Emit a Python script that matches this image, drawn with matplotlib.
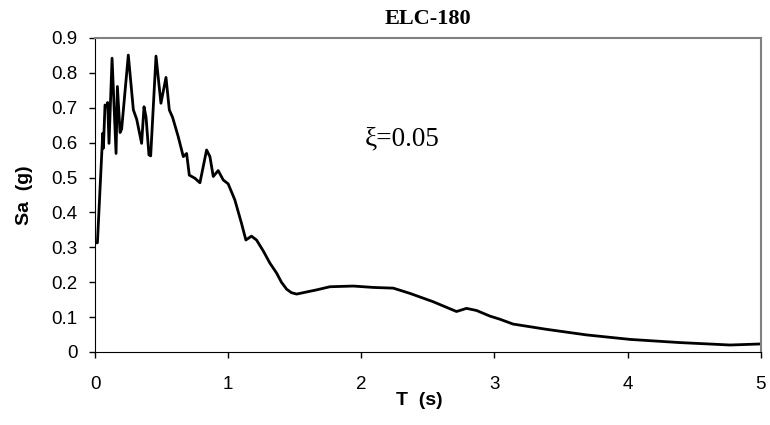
import matplotlib
matplotlib.use("Agg")
import matplotlib.pyplot as plt
from matplotlib.ticker import FuncFormatter

T = [0.0, 0.018, 0.058, 0.063, 0.075, 0.088, 0.095, 0.105, 0.128, 0.158, 0.168,
     0.188, 0.2, 0.25, 0.288, 0.313, 0.35, 0.368, 0.383, 0.405, 0.418, 0.458,
     0.495, 0.533, 0.558, 0.583, 0.625, 0.663, 0.688, 0.708, 0.75, 0.788, 0.838,
     0.863, 0.888, 0.925, 0.963, 1.0, 1.05, 1.1, 1.133, 1.175, 1.213, 1.263,
     1.313, 1.364, 1.40, 1.439, 1.475, 1.514, 1.664, 1.764, 1.94, 2.09, 2.24, 2.365, 2.54,
     2.715, 2.79, 2.865, 2.965, 3.04, 3.14, 3.39, 3.69, 4.02, 4.39, 4.77, 5.0]
Sa = [0.313, 0.313, 0.627, 0.584, 0.708, 0.703, 0.715, 0.598, 0.842, 0.569, 0.761,
      0.629, 0.639, 0.851, 0.694, 0.667, 0.598, 0.703, 0.674, 0.565, 0.562, 0.848,
      0.713, 0.787, 0.694, 0.672, 0.617, 0.560, 0.569, 0.507, 0.498, 0.485, 0.579,
      0.560, 0.503, 0.520, 0.493, 0.482, 0.436, 0.369, 0.321, 0.332, 0.321, 0.290,
      0.255, 0.226, 0.200, 0.180, 0.170, 0.166, 0.178, 0.187, 0.189, 0.185, 0.183, 0.168, 0.144,
      0.116, 0.125, 0.119, 0.103, 0.094, 0.080, 0.065, 0.049, 0.036, 0.027, 0.020, 0.023]

xticks = [0, 1, 2, 3, 4, 5]
yticks = [0, 0.1, 0.2, 0.3, 0.4, 0.5, 0.6, 0.7, 0.8, 0.9]

fig = plt.figure(figsize=(7.7, 4.25), dpi=100)
ax = fig.add_axes([0.1234, 0.1718, 0.8646, 0.7388])
ax.plot(T, Sa, color="black", lw=2.0, solid_joinstyle="round")
ax.set_xlim(0, 5)
ax.set_ylim(0, 0.9)
ax.set_xticks(xticks)
ax.set_yticks(yticks)
ax.yaxis.set_major_formatter(FuncFormatter(lambda v, p: "0" if v == 0 else f"{v:.1f}"))
ax.xaxis.set_major_formatter(FuncFormatter(lambda v, p: f"{v:.0f}"))
for lab in ax.get_xticklabels() + ax.get_yticklabels():
    lab.set_fontfamily("Liberation Sans")
    lab.set_fontsize(13.5)
ax.tick_params(direction="out", length=4.5, width=1, color="black")
ax.tick_params(axis="x", pad=13)
ax.tick_params(axis="y", pad=8)
ax.spines["top"].set_color("#808080")
ax.spines["right"].set_color("#808080")
ax.spines["top"].set_linewidth(1.5)
ax.spines["right"].set_linewidth(1.5)
ax.spines["left"].set_color("black")
ax.spines["bottom"].set_color("black")
ax.set_xlabel("T  (s)", fontfamily="Liberation Sans", fontweight="bold", fontsize=14)
ax.xaxis.label.set_verticalalignment("center")
ax.xaxis.set_label_coords(0.4865, -0.156)
ax.set_ylabel("Sa  (g)", fontfamily="Liberation Sans", fontweight="bold", fontsize=14)
ax.yaxis.label.set_verticalalignment("center")
ax.yaxis.set_label_coords(-0.1066, 0.5)
ax.set_title("ELC-180", fontfamily="Liberation Serif", fontweight="bold", fontsize=16, pad=10)
ax.text(2.027, 0.593, "ξ=0.05", fontfamily="Liberation Serif", fontsize=19.5, va="baseline", ha="left")
fig.savefig("out.png", dpi=100)
